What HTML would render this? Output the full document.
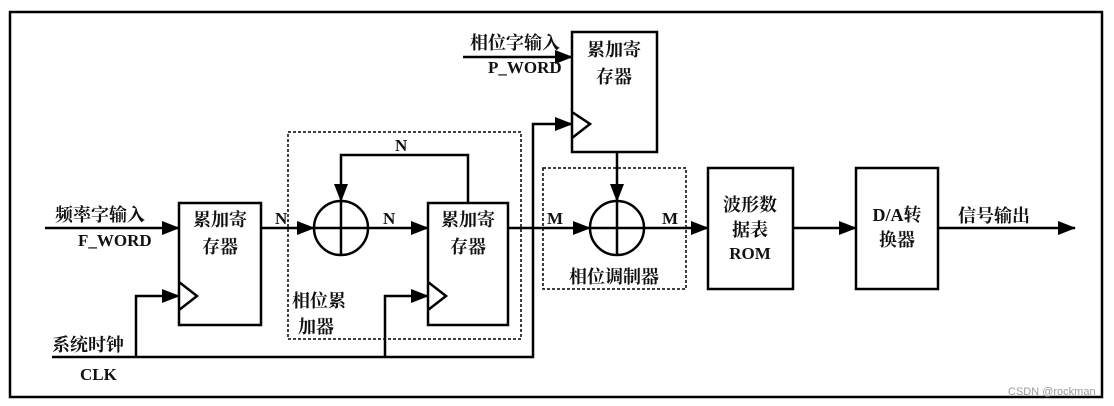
<!DOCTYPE html>
<html><head><meta charset="utf-8"><style>
html,body{margin:0;padding:0;background:#fff;}
svg{display:block}
.c{font-family:"Liberation Serif","Noto Serif CJK SC",serif;font-weight:bold;font-size:18px;fill:#111}
.l{font-family:"Liberation Sans Narrow","Liberation Serif",serif;font-weight:bold;font-size:17px;fill:#111}
</style></head><body>
<svg width="1114" height="406" viewBox="0 0 1114 406" xmlns="http://www.w3.org/2000/svg">
<defs><marker id="b" markerWidth="18" markerHeight="14" refX="17" refY="7" orient="auto" markerUnits="userSpaceOnUse"><path d="M0,0L18,7L0,14z" fill="#000"/></marker></defs>
<rect x="10" y="12" width="1092" height="385" fill="none" stroke="#000" stroke-width="2.5"/>
<g fill="none" stroke="#000" stroke-width="1.5" stroke-dasharray="3,2">
<rect x="288" y="132" width="233" height="207"/>
<rect x="543" y="168" width="143" height="121"/>
</g>
<g fill="none" stroke="#000" stroke-width="2.5">
<rect x="179" y="203" width="82" height="122"/>
<rect x="428" y="203" width="80" height="122"/>
<rect x="572" y="32" width="85" height="120"/>
<rect x="708" y="168" width="85" height="121"/>
<rect x="856" y="168" width="82" height="121"/>
<polyline points="179,282 197,296 179,310"/>
<polyline points="428,282 446,296 428,310"/>
<polyline points="572,112 590,124 572,138"/>
<circle cx="341" cy="228" r="27"/>
<circle cx="617" cy="228" r="27"/>
<line x1="314" y1="228" x2="368" y2="228"/><line x1="341" y1="201" x2="341" y2="255"/>
<line x1="590" y1="228" x2="644" y2="228"/><line x1="617" y1="201" x2="617" y2="255"/>
</g>
<g fill="none" stroke="#000" stroke-width="2.5" marker-end="url(#b)">
<line x1="45" y1="228" x2="179" y2="228"/>
<line x1="261" y1="228" x2="314" y2="228"/>
<line x1="368" y1="228" x2="428" y2="228"/>
<polyline points="468,203 468,155 341,155 341,201"/>
<line x1="508" y1="228" x2="590" y2="228"/>
<line x1="644" y1="228" x2="708" y2="228"/>
<line x1="793" y1="228" x2="856" y2="228"/>
<line x1="938" y1="228" x2="1075" y2="228"/>
<line x1="463" y1="57" x2="572" y2="57"/>
<line x1="617" y1="152" x2="617" y2="201"/>
<polyline points="136,357 136,296 179,296"/>
<polyline points="385,357 385,296 428,296"/>
<polyline points="52,357 533,357 533,124 572,124"/>
</g>
<text class="c" x="55" y="221">频率字输入</text>
<text class="l" x="78" y="246">F_WORD</text>
<text class="c" x="52" y="351">系统时钟</text>
<text class="l" x="80" y="380">CLK</text>
<text class="c" x="220" y="226" text-anchor="middle">累加寄</text>
<text class="c" x="220" y="253" text-anchor="middle">存器</text>
<text class="c" x="468" y="226" text-anchor="middle">累加寄</text>
<text class="c" x="468" y="253" text-anchor="middle">存器</text>
<text class="c" x="614" y="56" text-anchor="middle">累加寄</text>
<text class="c" x="614" y="83" text-anchor="middle">存器</text>
<text class="c" x="470" y="49">相位字输入</text>
<text class="l" x="488" y="73">P_WORD</text>
<text class="l" x="275" y="224">N</text>
<text class="l" x="383" y="224">N</text>
<text class="l" x="395" y="151">N</text>
<text class="l" x="547" y="224">M</text>
<text class="l" x="662" y="224">M</text>
<text class="c" x="292" y="307">相位累</text>
<text class="c" x="298" y="333">加器</text>
<text class="c" x="614" y="283" text-anchor="middle">相位调制器</text>
<text class="c" x="750" y="211" text-anchor="middle">波形数</text>
<text class="c" x="750" y="236" text-anchor="middle">据表</text>
<text class="l" x="750" y="259" text-anchor="middle">ROM</text>
<text class="c" x="897" y="221" text-anchor="middle">D/A转</text>
<text class="c" x="897" y="246" text-anchor="middle">换器</text>
<text class="c" x="958" y="222">信号输出</text>
<text x="1008" y="395" font-family="Liberation Sans,sans-serif" font-size="11" fill="#999">CSDN @rockman</text>
</svg>
</body></html>
